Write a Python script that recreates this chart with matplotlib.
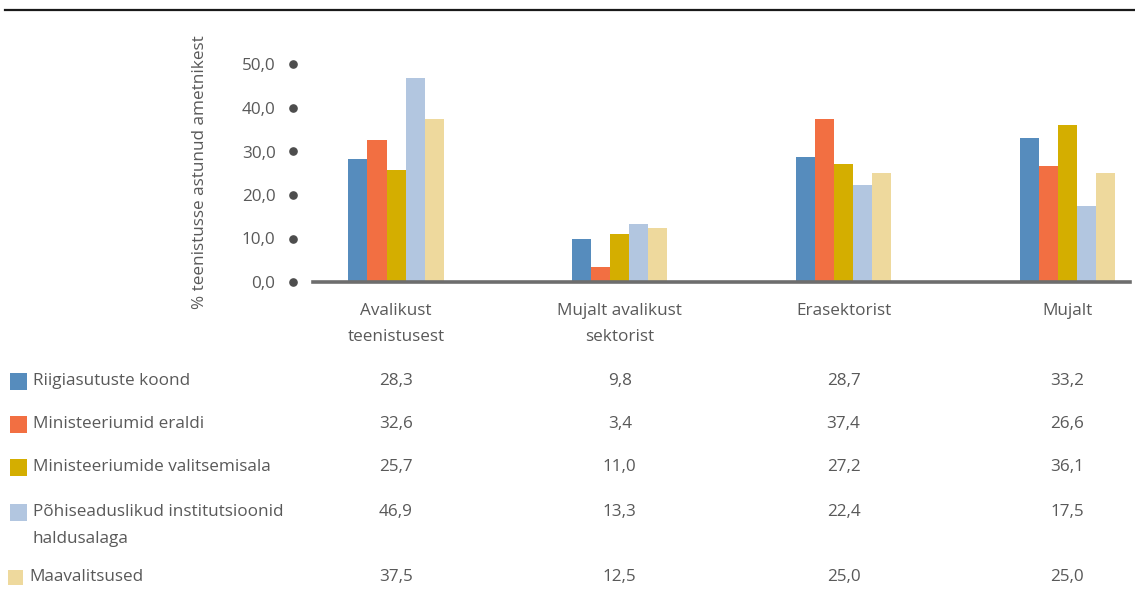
import matplotlib
matplotlib.use("Agg")
import matplotlib.pyplot as plt
import matplotlib.transforms as mtransforms
import numpy as np

# Categories (where the new officials came from) and series values
categories = ["Avalikust\nteenistusest", "Mujalt avalikust\nsektorist", "Erasektorist", "Mujalt"]
series_names = ["Riigiasutuste koond", "Ministeeriumid eraldi", "Ministeeriumide valitsemisala",
                "Põhiseaduslikud institutsioonid\nhaldusalaga", "Maavalitsused"]
riigiasutuste_koond = [28.3, 9.8, 28.7, 33.2]
ministeeriumid_eraldi = [32.6, 3.4, 37.4, 26.6]
ministeeriumide_valitsemisala = [25.7, 11.0, 27.2, 36.1]
pohiseaduslikud = [46.9, 13.3, 22.4, 17.5]
maavalitsused = [37.5, 12.5, 25.0, 25.0]
y_ticks = [0, 10, 20, 30, 40, 50]
y_label = "% teenistusse astunud ametnikest"

series = [riigiasutuste_koond, ministeeriumid_eraldi, ministeeriumide_valitsemisala,
          pohiseaduslikud, maavalitsused]
colors = ["#568cbd", "#f26f42", "#d4ae00", "#b2c6e0", "#eed99d"]

plt.rcParams["font.family"] = ["Open Sans", "DejaVu Sans"]
text_color = "#595959"
fs = 12.3

W, H = 1135, 600
fig = plt.figure(figsize=(W / 100, H / 100), dpi=100)

# axes placement in pixels
left_px, right_px, bottom_px, top_px = 313, 1130, 282, 64.5
ax = fig.add_axes([left_px / W, 1 - bottom_px / H, (right_px - left_px) / W, (bottom_px - top_px) / H])

x = np.arange(len(categories))
bw = 0.085
for i, (vals, c) in enumerate(zip(series, colors)):
    ax.bar(x + (i - 2) * bw, vals, width=bw, color=c, linewidth=0, zorder=2)

ax.set_xlim(-0.371, 3.28)
ax.set_ylim(0, 50)
for s in ["top", "right", "left"]:
    ax.spines[s].set_visible(False)
ax.spines["bottom"].set_color("#6d6d6d")
ax.spines["bottom"].set_linewidth(2.6)
ax.spines["bottom"].set_zorder(3)
ax.set_xticks([])
ax.set_yticks(y_ticks)
ax.set_yticklabels([f"{v:.1f}".replace(".", ",") for v in y_ticks], fontsize=fs, color=text_color)
ax.tick_params(axis="y", length=0, pad=27)

# round dot markers in front of each y tick
dot_tr = mtransforms.blended_transform_factory(fig.transFigure, ax.transData)
ax.plot([293 / W] * len(y_ticks), y_ticks, "o", color="#4d4d4d", ms=5.2,
        transform=dot_tr, clip_on=False)

fig.text(200 / W, 1 - 172 / H, y_label, rotation=90, ha="center", va="center",
         fontsize=fs, color=text_color)

# top rule
fig.add_artist(plt.Line2D([5 / W, 1], [1 - 10 / H] * 2, color="#1a1a1a", lw=1.6,
                          transform=fig.transFigure))

# category labels under the axis, one text per line
cat_tr = mtransforms.blended_transform_factory(ax.transData, fig.transFigure)
for xi, lab in zip(x, categories):
    for k, line in enumerate(lab.split("\n")):
        fig.text(xi, 1 - (311 + 26 * k) / H, line, ha="center", va="center", fontsize=fs,
                 color=text_color, transform=cat_tr)

# data table with legend keys
row_y = [381, 424, 467, 512, 577]
sq_left = [10, 10, 10, 10, 8]
sq_size = [17, 17, 17, 17, 15]
txt_left = [33, 33, 33, 33, 29]
for name, vals, c, ry, sl, ss, tl in zip(series_names, series, colors, row_y, sq_left, sq_size, txt_left):
    fig.add_artist(plt.Rectangle((sl / W, 1 - (ry + ss / 2) / H), ss / W, ss / H,
                                 color=c, transform=fig.transFigure, lw=0))
    for k, line in enumerate(name.split("\n")):
        fig.text(tl / W, 1 - (ry + 27 * k) / H, line, ha="left", va="center", fontsize=fs,
                 color=text_color)
    for xi, v in zip(x, vals):
        fig.text(xi, 1 - ry / H, f"{v:.1f}".replace(".", ","), ha="center", va="center",
                 fontsize=fs, color=text_color, transform=cat_tr)

fig.savefig("out.png", dpi=100)
